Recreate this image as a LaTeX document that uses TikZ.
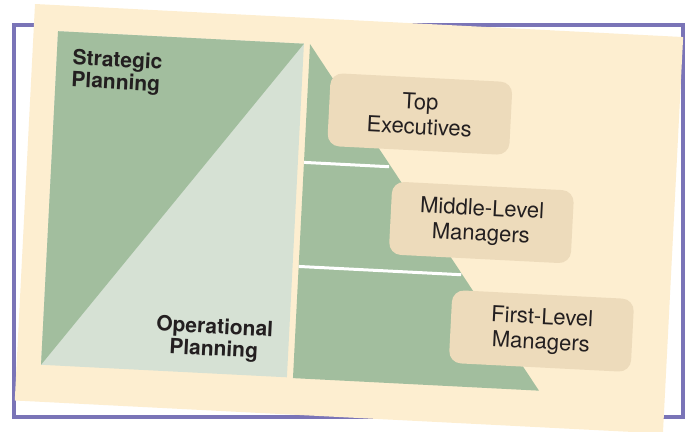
\documentclass[tikz,border=0pt]{standalone}
\usepackage{fontspec}
\setmainfont{TeX Gyre Heros}
\begin{document}
\definecolor{framepurple}{HTML}{7A74B7}
\definecolor{cardbeige}{HTML}{FDEED0}
\definecolor{darkgreen}{HTML}{A2BE9E}
\definecolor{lightgreen}{HTML}{D6E1D4}
\definecolor{boxtan}{HTML}{EDDBBB}
\definecolor{inkgray}{HTML}{231F20}
\begin{tikzpicture}[x=1pt,y=-1pt,
  levelbox/.style={fill=boxtan, draw=none, rounded corners=12pt,
    minimum width=182pt, minimum height=73pt, inner sep=0pt,
    align=center, text=inkgray,
    font=\fontsize{22}{25}\selectfont},
  planlabel/.style={inner sep=0pt, text=inkgray,
    font=\fontsize{21}{22}\selectfont\bfseries},
  divider/.style={draw=white, line width=3pt}]
\useasboundingbox (0,0) rectangle (685,431);
% outer frame
\draw[framepurple, line width=4.3pt, fill=white] (14.2,24.7) rectangle (682.8,416.8);
% tilted card with its contents, in card coordinates
\begin{scope}[shift={(35,4)}, rotate=-2.92, transform shape]
  \fill[cardbeige] (0,0) rectangle (649,397);
  % planning panel
  \fill[lightgreen] (24.4,26) rectangle (270.6,360);
  \fill[darkgreen] (24.4,26) -- (270.6,26) -- (24.4,360) -- cycle;
  % management levels
  \fill[darkgreen] (276.7,26) -- (523,360.5) -- (276.7,360.5) -- cycle;
  \coordinate (d1a) at (276.7,144.5);
  \coordinate (d1b) at (362,144.5);
  \coordinate (d2a) at (276.7,248.7);
  \coordinate (d2b) at (439.5,248.7);
  \draw[divider] (d1a) -- (d1b);
  \draw[divider] (d2a) -- (d2b);
  \node[planlabel, anchor=north west, align=left] (strategic) at (40.2,43)
    {Strategic\\Planning};
  \node[planlabel, anchor=north, align=center] (operational) at (196,304.4)
    {Operational\\Planning};
  \node[levelbox] (top) at (390,90.3) {Top\\Executives};
  \node[levelbox] (middle) at (457,195.5) {Middle-Level\\Managers};
  \node[levelbox] (first) at (522.5,300.8) {First-Level\\Managers};
\end{scope}
\end{tikzpicture}
\end{document}
